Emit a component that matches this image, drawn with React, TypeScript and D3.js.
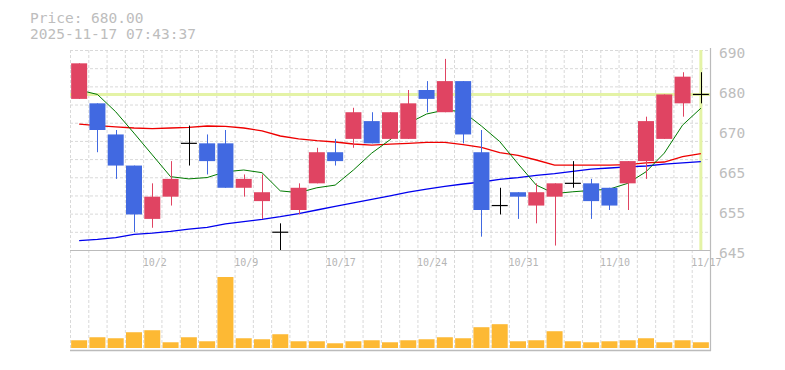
import React from "react";
import * as d3 from "d3";

const dates = [
  "9/26", "9/29", "9/30", "10/1", "10/2", "10/3", "10/6", "10/7", "10/8", "10/9",
  "10/10", "10/14", "10/15", "10/16", "10/17", "10/20", "10/21", "10/22", "10/23", "10/24",
  "10/27", "10/28", "10/29", "10/30", "10/31", "11/4", "11/5", "11/6", "11/7", "11/10",
  "11/11", "11/12", "11/13", "11/14", "11/17",
];
const opens = [679, 678, 671, 664, 652, 657, 669, 669, 669, 659, 656, 649, 654, 660, 667, 670, 674, 670, 670, 681, 676, 683, 667, 655, 658, 655, 657, 660, 660, 659, 660, 665, 670, 678, 680];
const highs = [687, 678, 672, 664, 660, 665, 673, 671, 672, 662, 662, 651, 660, 668, 670, 677, 676, 676, 681, 683, 688, 683, 672, 659, 658, 660, 660, 665, 661, 659, 665, 675, 680, 685, 685];
const lows = [679, 667, 661, 649, 650, 655, 664, 662, 659, 657, 652, 645, 653, 660, 664, 668, 669, 670, 670, 676, 676, 669, 648, 653, 652, 651, 646, 659, 652, 654, 654, 661, 670, 675, 678];
const closes = [687, 672, 664, 653, 657, 661, 669, 665, 659, 661, 658, 649, 659, 667, 665, 676, 669, 676, 678, 679, 683, 671, 654, 655, 657, 658, 660, 660, 656, 655, 665, 674, 680, 684, 680];
const volumes = [7700, 10700, 9700, 15700, 17700, 5700, 10700, 6700, 70700, 9700, 8700, 13700, 6700, 6700, 4700, 6700, 7700, 5700, 7700, 8700, 10700, 9700, 20700, 23700, 6700, 7700, 16700, 6700, 5700, 6700, 7700, 9700, 5700, 7700, 5700];
const ma5 = [681.0, 680.0, 676.1, 671.3, 666.4, 661.5, 661.0, 661.3, 662.6, 663.0, 662.4, 658.3, 657.9, 659.0, 659.6, 663.0, 666.8, 669.8, 673.5, 675.6, 676.5, 676.1, 672.9, 669.4, 664.4, 659.6, 657.7, 658.1, 658.4, 658.7, 660.0, 662.6, 666.8, 673.1, 676.9];
const ma25 = [673.3, 673.0, 672.7, 672.45, 672.3, 672.45, 672.6, 672.9, 672.8, 672.45, 671.8, 670.65, 670.0, 669.6, 669.3, 668.85, 668.6, 668.8, 669.0, 669.2, 669.2, 668.7, 668.1, 666.9, 666.3, 665.25, 664.1, 664.1, 664.1, 664.1, 664.2, 664.6, 664.8, 666.0, 666.7];
const ma75 = [647.1, 647.4, 647.8, 648.5, 648.8, 649.2, 649.7, 650.1, 650.9, 651.4, 651.9, 652.5, 653.2, 654.0, 654.8, 655.6, 656.4, 657.2, 658.0, 658.7, 659.3, 659.85, 660.3, 660.9, 661.3, 661.8, 662.2, 662.7, 663.2, 663.45, 663.7, 663.9, 664.3, 664.6, 664.9];
const xLabels = ["10/2", "10/9", "10/17", "10/24", "10/31", "11/10", "11/17"];
const yTickValues = [690, 681, 672, 663, 654, 645];
const yTickLabels = ["690", "680", "670", "665", "655", "645"];
const currentPrice = 680;
const titleLines = ["Price: 680.00", "2025-11-17 07:43:37"];

const W = 785;
const H = 370;
const left = 70;
const right = 710;
const top = 50;
const bottom = 250;
const volBottom = 348;
const volTop = 277;

export default function App() {
  const x = d3.scaleBand<string>().domain(dates).range([left, right]).paddingInner(0.125).paddingOuter(0.0625);
  const step = x.step();
  const bw = x.bandwidth();
  const cx = (d: string) => (x(d) as number) + bw / 2;
  const y = d3.scaleLinear().domain([645, 690]).range([bottom, top]);
  const yv = d3.scaleLinear().domain([0, d3.max(volumes) as number]).range([volBottom, volTop]);

  const hGrid = d3.range(0, 11).map((k) => top + (k * (bottom - top)) / 11);
  const vGrid = d3.range(0, dates.length).map((k) => left + k * step);

  const mkLine = (vals: number[]) =>
    d3.line<number>().x((_, i) => cx(dates[i])).y((v) => y(v))(vals) as string;

  const mono = "'DejaVu Sans Mono', 'Liberation Mono', monospace";
  const gridColor = "#d9d9d9";
  const up = "#e04462";
  const down = "#4169e1";
  const hl = "#e4f3a6";
  const lastX = cx(dates[dates.length - 1]);

  return (
    <svg width={W} height={H} style={{ position: "absolute", left: 0, top: 0, background: "#fff" }}>
      {titleLines.map((t, i) => (
        <text key={t} x={30} y={22.5 + i * 16} fontFamily={mono} fontSize={14.5} fill="#bdbdbd">
          {t}
        </text>
      ))}
      {/* grid */}
      {hGrid.map((g, i) => (
        <line key={"h" + i} x1={left} x2={right} y1={g + 0.5} y2={g + 0.5} stroke={gridColor} strokeDasharray="3,2" />
      ))}
      {vGrid.map((g, i) => (
        <line key={"v" + i} x1={g + 0.5} x2={g + 0.5} y1={top} y2={volBottom + 1} stroke={gridColor} strokeDasharray="3,2" />
      ))}
      {/* highlight lines */}
      <line x1={left} x2={right} y1={y(currentPrice)} y2={y(currentPrice)} stroke={hl} strokeWidth={3} />
      <line x1={lastX} x2={lastX} y1={top} y2={bottom} stroke={hl} strokeWidth={3} />
      {/* axes borders */}
      <line x1={left} x2={right} y1={bottom + 0.5} y2={bottom + 0.5} stroke="#bbb" />
      <line x1={left} x2={right + 1} y1={volBottom + 2.5} y2={volBottom + 2.5} stroke="#bbb" strokeWidth={1.5} />
      <line x1={right + 0.5} x2={right + 0.5} y1={top - 2} y2={volBottom + 3} stroke="#bbb" strokeWidth={1.2} />
      {/* moving averages */}
      <path d={mkLine(ma75)} fill="none" stroke="#0000ee" strokeWidth={1.3} />
      <path d={mkLine(ma25)} fill="none" stroke="#ee0000" strokeWidth={1.3} />
      <path d={mkLine(ma5)} fill="none" stroke="#007a00" strokeWidth={1} />
      {/* candles */}
      {dates.map((d, i) => {
        const o = opens[i];
        const c = closes[i];
        const color = c > o ? up : c < o ? down : "#000";
        const xc = Math.round(cx(d)) + 0.5;
        const x0 = x(d) as number;
        if (c === o) {
          return (
            <g key={d}>
              <line x1={xc} x2={xc} y1={y(highs[i])} y2={y(lows[i])} stroke="#000" strokeWidth={1} />
              <line x1={x0} x2={x0 + bw} y1={y(o)} y2={y(o)} stroke="#000" strokeWidth={1.2} />
            </g>
          );
        }
        return (
          <g key={d}>
            <line x1={xc} x2={xc} y1={y(highs[i])} y2={y(lows[i])} stroke={color} strokeWidth={1} />
            <rect x={x0} width={bw} y={y(Math.max(o, c))} height={Math.abs(y(o) - y(c))} fill={color} />
          </g>
        );
      })}
      {/* y labels */}
      {yTickValues.map((v, i) => (
        <text key={v} x={719} y={y(v) + 8} fontFamily={mono} fontSize={14.5} fill="#bdbdbd">
          {yTickLabels[i]}
        </text>
      ))}
      {/* x labels */}
      {xLabels.map((l) => (
        <text key={l} x={(x(l) as number) - 1.5} y={265.5} fontFamily={mono} fontSize={10} fill="#b5b5b5">
          {l}
        </text>
      ))}
      {/* volume */}
      {dates.map((d, i) => (
        <rect key={"vol" + d} x={x(d) as number} width={bw} y={yv(volumes[i])} height={volBottom - yv(volumes[i])} fill="#fdb934" />
      ))}
    </svg>
  );
}
